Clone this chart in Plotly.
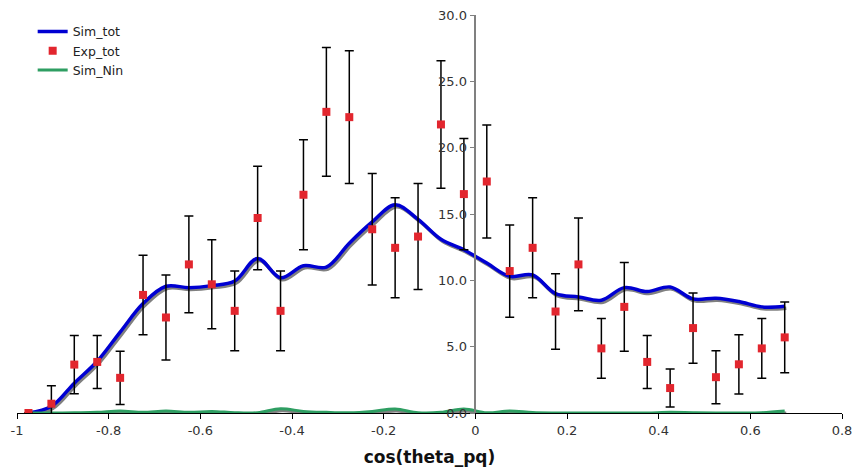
import plotly.graph_objects as go

# ---- data ----
x_grid = [-0.975 + 0.05 * i for i in range(34)]

exp_tot = [0.0, 0.7, 3.65, 3.85, 2.65, 8.9, 7.2, 11.2, 9.7, 7.7,
           14.7, 7.7, 16.45, 22.7, 22.3, 13.85, 12.45, 13.3, 21.75, 16.5,
           17.45, 10.7, 12.45, 7.65, 11.2, 4.87, 8.0, 3.85, 1.88, 6.4,
           2.7, 3.67, 4.87, 5.7]
exp_err = [0.0, 1.35, 2.2, 2.0, 2.0, 3.0, 3.2, 3.65, 3.35, 3.0,
           3.9, 3.0, 4.15, 4.85, 5.0, 4.2, 3.77, 4.0, 4.8, 4.2,
           4.25, 3.48, 3.77, 2.85, 3.5, 2.25, 3.35, 2.0, 1.43, 2.65,
           2.0, 2.23, 2.25, 2.66]

sim_tot = [0.0, 0.5, 2.25, 3.9, 6.1, 8.25, 9.55, 9.45, 9.6, 9.95,
           11.65, 10.2, 11.1, 11.0, 12.8, 14.4, 15.7, 14.6, 13.1, 12.3,
           11.3, 10.3, 10.4, 9.0, 8.75, 8.5, 9.45, 9.15, 9.5, 8.6,
           8.65, 8.4, 8.0, 8.05]

sim_nin = [0.0, 0.0, 0.02, 0.05, 0.15, 0.05, 0.15, 0.05, 0.12, 0.02,
           0.02, 0.32, 0.12, 0.05, 0.02, 0.12, 0.3, 0.02, 0.05, 0.3,
           0.02, 0.15, 0.03, 0.0, 0.0, 0.0, 0.0, 0.0, 0.05, 0.02,
           0.0, 0.0, 0.02, 0.15]

x_tickvals = [-1, -0.8, -0.6, -0.4, -0.2, 0, 0.2, 0.4, 0.6, 0.8]
x_ticktext = ["-1", "-0.8", "-0.6", "-0.4", "-0.2", "0", "0.2", "0.4", "0.6", "0.8"]
y_tickvals = [0, 5, 10, 15, 20, 25, 30]
y_ticktext = ["0.0", "5.0", "10.0", "15.0", "20.0", "25.0", "30.0"]

# shadow offset (styling: ~2px down, ~1.5px right)
SH_DX = 0.0035
SH_DY = -0.15

FONT = "DejaVu Sans"

fig = go.Figure()

# shadows
fig.add_trace(go.Scatter(x=[v + SH_DX for v in x_grid], y=[v + SH_DY for v in sim_tot],
                         mode="lines", line=dict(color="#808080", width=3.5, shape="spline", smoothing=1.0),
                         showlegend=False, hoverinfo="skip"))
fig.add_trace(go.Scatter(x=[v + SH_DX for v in x_grid], y=[v + SH_DY for v in sim_nin],
                         mode="lines", line=dict(color="#808080", width=3.0, shape="spline", smoothing=1.0),
                         showlegend=False, hoverinfo="skip", cliponaxis=False))

fig.add_trace(go.Scatter(x=x_grid, y=sim_tot, name="Sim_tot", mode="lines",
                         line=dict(color="#0000D2", width=3.5, shape="spline", smoothing=1.0),
                         legendrank=1))
fig.add_trace(go.Scatter(x=x_grid, y=sim_nin, name="Sim_Nin", mode="lines",
                         line=dict(color="#2E9E62", width=3.0, shape="spline", smoothing=1.0),
                         legendrank=3, cliponaxis=False))
fig.add_trace(go.Scatter(x=x_grid, y=exp_tot, name="Exp_tot", mode="markers",
                         marker=dict(symbol="square", size=8, color="#E2262E"),
                         error_y=dict(type="data", array=exp_err, visible=True,
                                      color="black", thickness=1.5, width=4.5),
                         legendrank=2))

fig.update_layout(
    width=854, height=470,
    margin=dict(l=17, r=12, t=15, b=57, autoexpand=False),
    paper_bgcolor="white", plot_bgcolor="white",
    font=dict(family=FONT, size=13, color="#333333"),
    showlegend=True,
    legend=dict(x=0.019, y=0.995, xanchor="left", yanchor="top",
                bgcolor="rgba(0,0,0,0)", font=dict(size=12.5, color="#222222"),
                tracegroupgap=0, itemwidth=30),
    xaxis=dict(range=[-1, 0.8], tickvals=x_tickvals, ticktext=x_ticktext, automargin=False,
               showgrid=False, zeroline=False, showline=True, linecolor="black", linewidth=1,
               ticks="outside", ticklen=5, tickcolor="black",
               title=dict(text="<b>cos(theta_pq)</b>", font=dict(size=17, color="#111111"), standoff=14)),
    yaxis=dict(range=[0, 30], tickvals=y_tickvals, ticktext=y_ticktext, automargin=False,
               showgrid=False, zeroline=False, showline=True, linecolor="#808080", linewidth=1.5,
               ticks="outside", ticklen=5, tickcolor="#808080",
               anchor="free", position=1.0 / 1.8),
)

fig.write_html("out.html")
